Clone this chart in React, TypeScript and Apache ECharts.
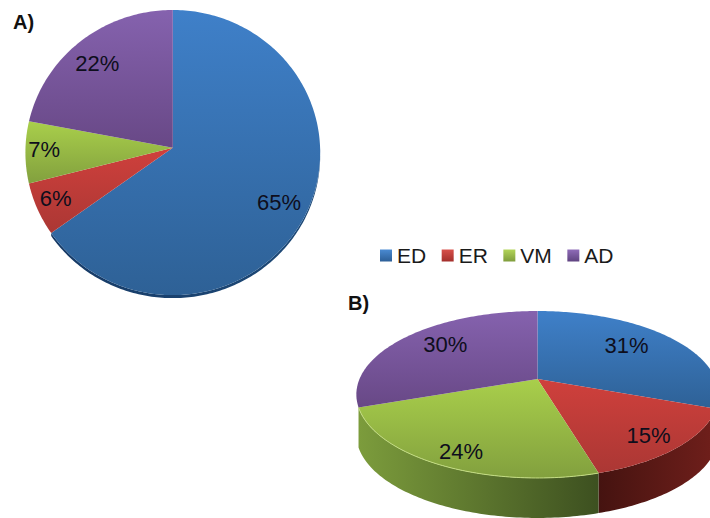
import React, { useEffect, useRef } from "react";
import * as echarts from "echarts";

const categories = ["ED", "ER", "VM", "AD"];
const valuesA = [65, 6, 7, 22];
const valuesB = [31, 15, 24, 30];

// Radial position of each percentage label, as a fraction of the pie radius,
// with a small pixel nudge per label.
const labelRadiusA = [0.8, 0.86, 0.88, 0.8];
const labelRadiusB = [0.68, 0.85, 0.82, 0.7];
const labelNudgeA = [[0, 2], [-1, -2], [1, -2], [-2, 2]];
const labelNudgeB = [[-4, -4], [-6, 0], [0, 4], [2, -4]];

const topColors = [
  ["#3f80c9", "#2e6196"],
  ["#cf403c", "#ab3734"],
  ["#a9cf4b", "#82a03e"],
  ["#8562ae", "#684886"],
];
const wallColors = [
  ["#163a66", "#1e4a78"],
  ["#451310", "#701f1b"],
  ["#7c9c3c", "#3d5020"],
  ["#4a3560", "#4a3560"],
];
const rimHighlight = [null, null, "#c3dc82", null];
const swatchColors = [
  ["#4a8ad2", "#2c5f97"],
  ["#d8504a", "#a32f2b"],
  ["#b3d559", "#7f9d3c"],
  ["#8f6cb8", "#5f4380"],
];

const TEXT = "#0e0e1c";
const FONT = "Liberation Sans";

type Pie = {
  values: number[];
  labelRadius: number[];
  labelNudge: number[][];
  cx: number;
  cy: number;
  rx: number; // half width of the pie at the height of its apex
  ry: number; // vertical scale of the tilted disc
  k: number; // strength of the perspective foreshortening
  lean: number; // degrees the front of the disc is turned against the back
  depth: number;
  walls: boolean[];
  highlight: boolean;
};

const pieA: Pie = {
  values: valuesA,
  labelRadius: labelRadiusA,
  labelNudge: labelNudgeA,
  cx: 172.8,
  cy: 147.7,
  rx: 147.3,
  ry: 142.4,
  k: 0.034,
  lean: 0,
  depth: 3,
  walls: [true, false, false, false],
  highlight: false,
};

const pieB: Pie = {
  values: valuesB,
  labelRadius: labelRadiusB,
  labelNudge: labelNudgeB,
  cx: 537.5,
  cy: 379,
  rx: 178,
  ry: 80.6,
  k: 0.1856,
  lean: 2,
  depth: 40,
  walls: [true, true, true, false],
  highlight: true,
};

// Projects a point of the unit disc; the angle runs clockwise from the top.
function project(p: Pie, deg: number, r: number): number[] {
  const a0 = (deg * Math.PI) / 180;
  const a = a0 - ((p.lean * Math.PI) / 180) * ((1 - Math.cos(a0)) / 2);
  const X = Math.sin(a) * r;
  const Y = Math.cos(a) * r;
  const w = 1 + p.k * Y;
  return [p.cx + (p.rx * X) / w, p.cy - (p.ry * Y) / w];
}

function rim(p: Pie, from: number, to: number): number[][] {
  const pts: number[][] = [];
  const steps = Math.max(2, Math.ceil(to - from));
  for (let i = 0; i <= steps; i++) {
    pts.push(project(p, from + ((to - from) * i) / steps, 1));
  }
  return pts;
}

const vertical = (c: string[]) =>
  new echarts.graphic.LinearGradient(0, 0, 0, 1, [
    { offset: 0, color: c[0] },
    { offset: 1, color: c[1] },
  ]);

const horizontal = (c: string[]) =>
  new echarts.graphic.LinearGradient(0, 0, 1, 0, [
    { offset: 0, color: c[0] },
    { offset: 1, color: c[1] },
  ]);

// One wall series and one face series per slice, named after its category.
function pieSeries(p: Pie): any[] {
  const total = p.values.reduce((s, v) => s + v, 0);
  const out: any[] = [];
  let acc = 0;
  p.values.forEach((v, i) => {
    const start = (acc / total) * 360;
    acc += v;
    const end = (acc / total) * 360;
    if (p.walls[i]) {
      out.push({
        type: "custom",
        name: categories[i],
        coordinateSystem: "none",
        z: 1,
        silent: true,
        itemStyle: { color: swatchColors[i][0] },
        data: [[start, end]],
        renderItem: (_: any, api: any) => {
          const a = Math.max(api.value(0), 90);
          const b = Math.min(api.value(1), 270);
          if (b <= a) return { type: "group", children: [] };
          const upper = rim(p, a, b);
          const lower = upper.map((q) => [q[0], q[1] + p.depth]).reverse();
          return {
            type: "polygon",
            shape: { points: upper.concat(lower) },
            style: { fill: horizontal(wallColors[i]) },
          };
        },
      });
    }
    out.push({
      type: "custom",
      name: categories[i],
      coordinateSystem: "none",
      z: 2,
      silent: true,
      itemStyle: { color: swatchColors[i][0] },
      data: [[start, end, v]],
      renderItem: (_: any, api: any) => {
        const a = api.value(0);
        const b = api.value(1);
        const pos = project(p, (a + b) / 2, p.labelRadius[i]);
        const children: any[] = [
          {
            type: "polygon",
            shape: { points: [[p.cx, p.cy], ...rim(p, a, b)] },
            style: { fill: vertical(topColors[i]) },
          },
        ];
        const glow = rimHighlight[i];
        if (p.highlight && glow) {
          children.push({
            type: "polyline",
            shape: { points: rim(p, a, b) },
            style: { fill: "none", stroke: glow, lineWidth: 1 },
          });
        }
        children.push({
          type: "text",
          z2: 10,
          x: pos[0] + p.labelNudge[i][0],
          y: pos[1] + p.labelNudge[i][1],
          style: {
            text: `${api.value(2)}%`,
            fill: TEXT,
            font: `22px "${FONT}"`,
            align: "center",
            verticalAlign: "middle",
          },
        });
        return { type: "group", children };
      },
    });
  });
  return out;
}

export default function App() {
  const ref = useRef<HTMLDivElement>(null);

  useEffect(() => {
    document.body.style.margin = "0";
    const chart = echarts.init(ref.current!, undefined, { renderer: "svg" });
    chart.setOption({
      animation: false,
      backgroundColor: "#ffffff",
      legend: {
        left: 375,
        top: 240,
        orient: "horizontal",
        itemWidth: 12,
        itemHeight: 12,
        itemGap: 15.5,
        icon: "rect",
        selectedMode: false,
        textStyle: { fontFamily: FONT, fontSize: 21, color: "#1a1a1a" },
        data: categories.map((name, i) => ({
          name,
          itemStyle: { color: vertical(swatchColors[i]) },
        })),
      },
      graphic: [
        {
          type: "text",
          x: 13,
          y: 22,
          style: {
            text: "A)",
            font: `bold 20px "${FONT}"`,
            fill: "#111111",
            verticalAlign: "middle",
          },
        },
        {
          type: "text",
          x: 348,
          y: 303,
          style: {
            text: "B)",
            font: `bold 20px "${FONT}"`,
            fill: "#111111",
            verticalAlign: "middle",
          },
        },
      ],
      series: [...pieSeries(pieA), ...pieSeries(pieB)],
    });
    return () => chart.dispose();
  }, []);

  return <div ref={ref} style={{ width: 710, height: 518 }} />;
}
